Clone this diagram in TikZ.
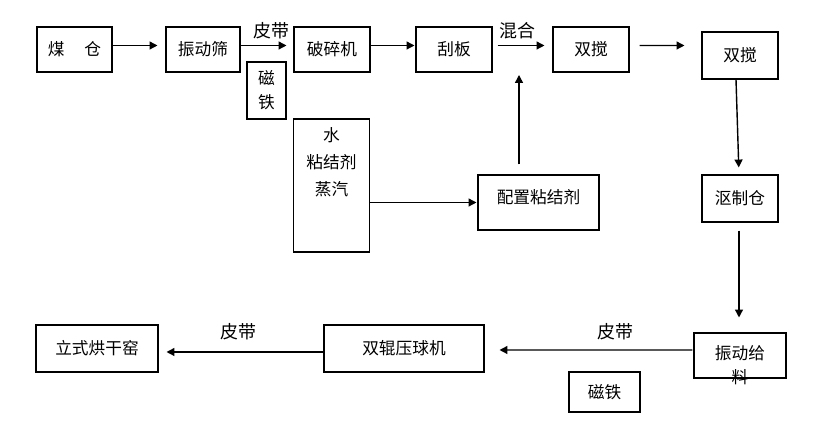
\documentclass[tikz,border=0pt]{standalone}
\usepackage{fontspec}
\newfontfamily\cjk{Noto Sans CJK SC}
\usetikzlibrary{arrows.meta,positioning,calc}
\tikzset{
  box/.style={draw,line width=0.6pt,inner sep=0pt,align=center},
  flow/.style={-{Triangle[length=4.5pt,width=4.5pt]},line width=0.8pt},
  beltlabel/.style={font=\cjk\fontsize{10.2}{12}\selectfont,inner sep=0pt},
  steptext/.style={inner sep=0pt,align=center},
}

\begin{document}
\begin{tikzpicture}[x=0.02cm,y=-0.02cm,font=\cjk\fontsize{9.5}{13.6}\selectfont]
  \useasboundingbox (0,0) rectangle (815,431);
  % top row
  \node[box,minimum width=1.5cm,minimum height=0.9cm] (meicang) at (74.5,49.5) {煤\hspace{1.2em}仓};
  \node[box,minimum width=1.48cm,minimum height=0.9cm] (shai) at (203,49.5) {振动筛};
  \node[box,minimum width=0.78cm,minimum height=1.14cm] (cixie1) at (266.5,90.5) {磁\\铁};
  \node[box,minimum width=1.52cm,minimum height=0.9cm] (posui) at (332,49.5) {破碎机};
  \node[box,minimum width=1.52cm,minimum height=0.9cm] (guaban) at (454,49.5) {刮板};
  \node[box,minimum width=1.52cm,minimum height=0.9cm] (jiaoA) at (591,49.5) {双搅};
  \node[box,minimum width=1.52cm,minimum height=0.94cm] (jiaoB) at (740,55.5) {双搅};
  % binder
  \node[box,minimum width=1.52cm,minimum height=2.66cm] (shui) at (331.5,185.5) {};
  \node[steptext,anchor=north,font=\cjk\fontsize{9.5}{15.3}\selectfont] (shuitxt) at (331.5,127) {水\\粘结剂\\蒸汽};
  \node[box,minimum width=2.42cm,minimum height=1.1cm] (peizhi) at (538.5,202.5) {};
  \node[steptext] (peizhitxt) at (538.5,197) {配置粘结剂};
  \node[box,minimum width=1.52cm,minimum height=0.94cm] (ouzhi) at (740,198.5) {沤制仓};
  % bottom row
  \node[box,minimum width=1.84cm,minimum height=0.9cm] (geiliao) at (740,355.5) {};
  \node[steptext] (geiliaotxt) at (740,365) {振动给\\料};
  \node[box,minimum width=1.42cm,minimum height=0.8cm] (cixie2) at (604.5,392) {磁铁};
  \node[box,minimum width=3.2cm,minimum height=0.94cm] (yaqiu) at (404,348.5) {双辊压球机};
  \node[box,minimum width=2.44cm,minimum height=0.94cm] (yaoshi) at (97,348.5) {立式烘干窑};

  \draw[flow,shorten >=0.16cm] ([yshift=0.08cm]meicang.east) -- ([yshift=0.08cm]shai.west);
  \draw[flow,shorten >=0.14cm] ([yshift=0.08cm]shai.east) -- ([yshift=0.08cm]posui.west);
  \node[beltlabel] (belt1) at (271,31) {皮带};
  \draw[flow,shorten >=0.02cm] ([yshift=0.08cm]posui.east) -- ([yshift=0.08cm]guaban.west);
  \draw[flow,shorten <=0.1cm,shorten >=0.16cm] ([yshift=0.08cm]guaban.east) -- ([yshift=0.08cm]jiaoA.west);
  \node[beltlabel] (mix) at (517,31) {混合};
  \draw[flow,shorten <=0.2cm,shorten >=0.34cm] ([yshift=0.08cm]jiaoA.east) -- ([yshift=0.2cm]jiaoB.west);
  \draw[flow,shorten >=0.14cm] ([xshift=-0.08cm]jiaoB.south) -- ([xshift=-0.02cm]ouzhi.north);
  \coordinate (mixin) at (519,75);
  \draw[flow,shorten <=0.2cm] (peizhi.north -| mixin) -- (mixin);
  \draw[flow,shorten >=0.02cm] (shui.east |- peizhi.west) -- (peizhi.west);
  \draw[flow,shorten <=0.16cm,shorten >=0.3cm] ([xshift=-0.02cm]ouzhi.south) -- ([xshift=-0.02cm]geiliao.north);
  \draw[flow,shorten <=0.02cm,shorten >=0.3cm] ([yshift=0.11cm]geiliao.west) -- ([yshift=-0.03cm]yaqiu.east);
  \node[beltlabel] (belt2) at (615,332) {皮带};
  \draw[flow,shorten >=0.16cm] ([yshift=-0.07cm]yaqiu.west) -- ([yshift=-0.07cm]yaoshi.east);
  \node[beltlabel] (belt3) at (238,332) {皮带};
\end{tikzpicture}
\end{document}
